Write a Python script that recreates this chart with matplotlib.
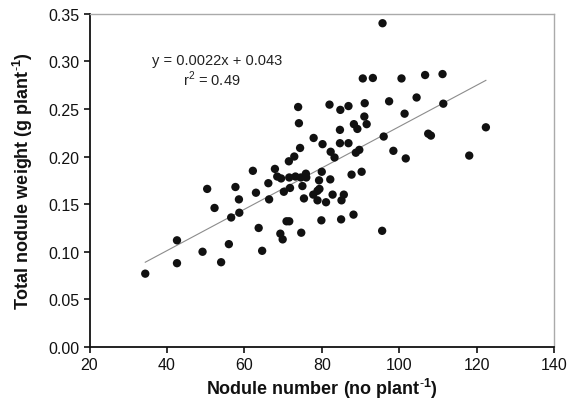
import numpy as np
import matplotlib
matplotlib.use('Agg')
import matplotlib.pyplot as plt

plt.rcParams['font.family'] = ['Liberation Sans', 'DejaVu Sans']
plt.rcParams['mathtext.fontset'] = 'custom'
plt.rcParams['mathtext.rm'] = 'Liberation Sans'
plt.rcParams['mathtext.bf'] = 'Liberation Sans:bold'

#%% data
nodule_number = [34.4, 42.6, 42.6, 49.2, 50.4, 52.3, 54.0, 56.0, 56.6, 57.7,
                 58.6, 58.7, 62.2, 63.0, 63.7, 64.6, 66.2, 66.4, 67.9, 68.5,
                 69.3, 69.5, 69.9, 70.2, 70.9, 71.6, 71.5, 71.6, 71.8, 72.9,
                 73.2, 73.9, 74.1, 74.4, 74.6, 74.7, 75.0, 75.4, 75.9, 76.0,
                 77.8, 77.9, 78.9, 78.9, 79.3, 79.4, 79.9, 80.0, 80.2, 81.1,
                 82.2, 82.0, 82.3, 82.8, 83.3, 84.7, 84.7, 84.8, 85.0, 85.1,
                 85.7, 86.9, 86.9, 87.7, 88.2, 88.3, 88.8, 89.2, 89.7, 90.3,
                 90.6, 91.0, 91.1, 91.6, 93.2, 95.6, 95.7, 96.0, 97.4, 98.5,
                 100.6, 101.4, 101.7, 104.5, 106.7, 107.5, 108.2, 111.2, 111.4, 118.1,
                 122.4]
nodule_weight = [0.077, 0.112, 0.088, 0.100, 0.166, 0.146, 0.089, 0.108, 0.136, 0.168,
                 0.155, 0.141, 0.185, 0.162, 0.125, 0.101, 0.172, 0.155, 0.187, 0.179,
                 0.119, 0.177, 0.113, 0.163, 0.132, 0.132, 0.195, 0.178, 0.167, 0.200,
                 0.179, 0.252, 0.235, 0.209, 0.178, 0.120, 0.169, 0.156, 0.182, 0.178,
                 0.160, 0.2195, 0.164, 0.154, 0.175, 0.166, 0.133, 0.184, 0.213, 0.152,
                 0.176, 0.2545, 0.205, 0.160, 0.199, 0.228, 0.214, 0.249, 0.134, 0.154,
                 0.160, 0.253, 0.214, 0.181, 0.139, 0.234, 0.204, 0.229, 0.207, 0.184,
                 0.282, 0.242, 0.256, 0.234, 0.2825, 0.122, 0.340, 0.221, 0.258, 0.206,
                 0.282, 0.245, 0.198, 0.262, 0.2856, 0.224, 0.222, 0.2866, 0.2555, 0.201,
                 0.2307]

# regression line as drawn (end points)
trend_x = [34.4, 122.4]
trend_y = [0.089, 0.280]

eq_text = 'y = 0.0022x + 0.043'
r2_text = 'r$^2$ = 0.49'

#%% plot
fig = plt.figure(figsize=(5.82, 4.06), dpi=100)
ax = fig.add_axes([0.1538, 0.1429, 0.7981, 0.8209])

ax.plot(trend_x, trend_y, color='#8c8c8c', linewidth=0.8, zorder=2)
ax.scatter(nodule_number, nodule_weight, s=36, color='#111111', edgecolors='none', zorder=3)

ax.set_xlim(20, 140)
ax.set_ylim(0, 0.35)
ax.set_xticks(np.arange(20, 141, 20))
ax.set_yticks(np.arange(0, 0.351, 0.05))
ax.yaxis.set_major_formatter(matplotlib.ticker.FormatStrFormatter('%.2f'))
ax.tick_params(direction='out', length=4, width=1.2, labelsize=11.5, colors='#111111', pad=3)

for s in ['left', 'bottom']:
    ax.spines[s].set_color('#111111')
    ax.spines[s].set_linewidth(1.3)
for s in ['top', 'right']:
    ax.spines[s].set_color('#aaaaaa')
    ax.spines[s].set_linewidth(1.0)

sup = r'$^{\mathbf{\text{-}1}}$'
ax.set_xlabel('Nodule number (no plant' + sup + ')', fontsize=13, fontweight='bold',
              color='#111111', labelpad=3)
ax.set_ylabel('Total nodule weight (g plant' + sup + ')', fontsize=13, fontweight='bold',
              color='#111111', labelpad=10)

ax.text(0.2749, 0.862, eq_text, transform=ax.transAxes, fontsize=10.5, ha='center',
        va='center', color='#222222')
ax.text(0.2627, 0.806, r2_text, transform=ax.transAxes, fontsize=10.5, ha='center',
        va='center', color='#222222')

fig.savefig('out.png', dpi=100)
